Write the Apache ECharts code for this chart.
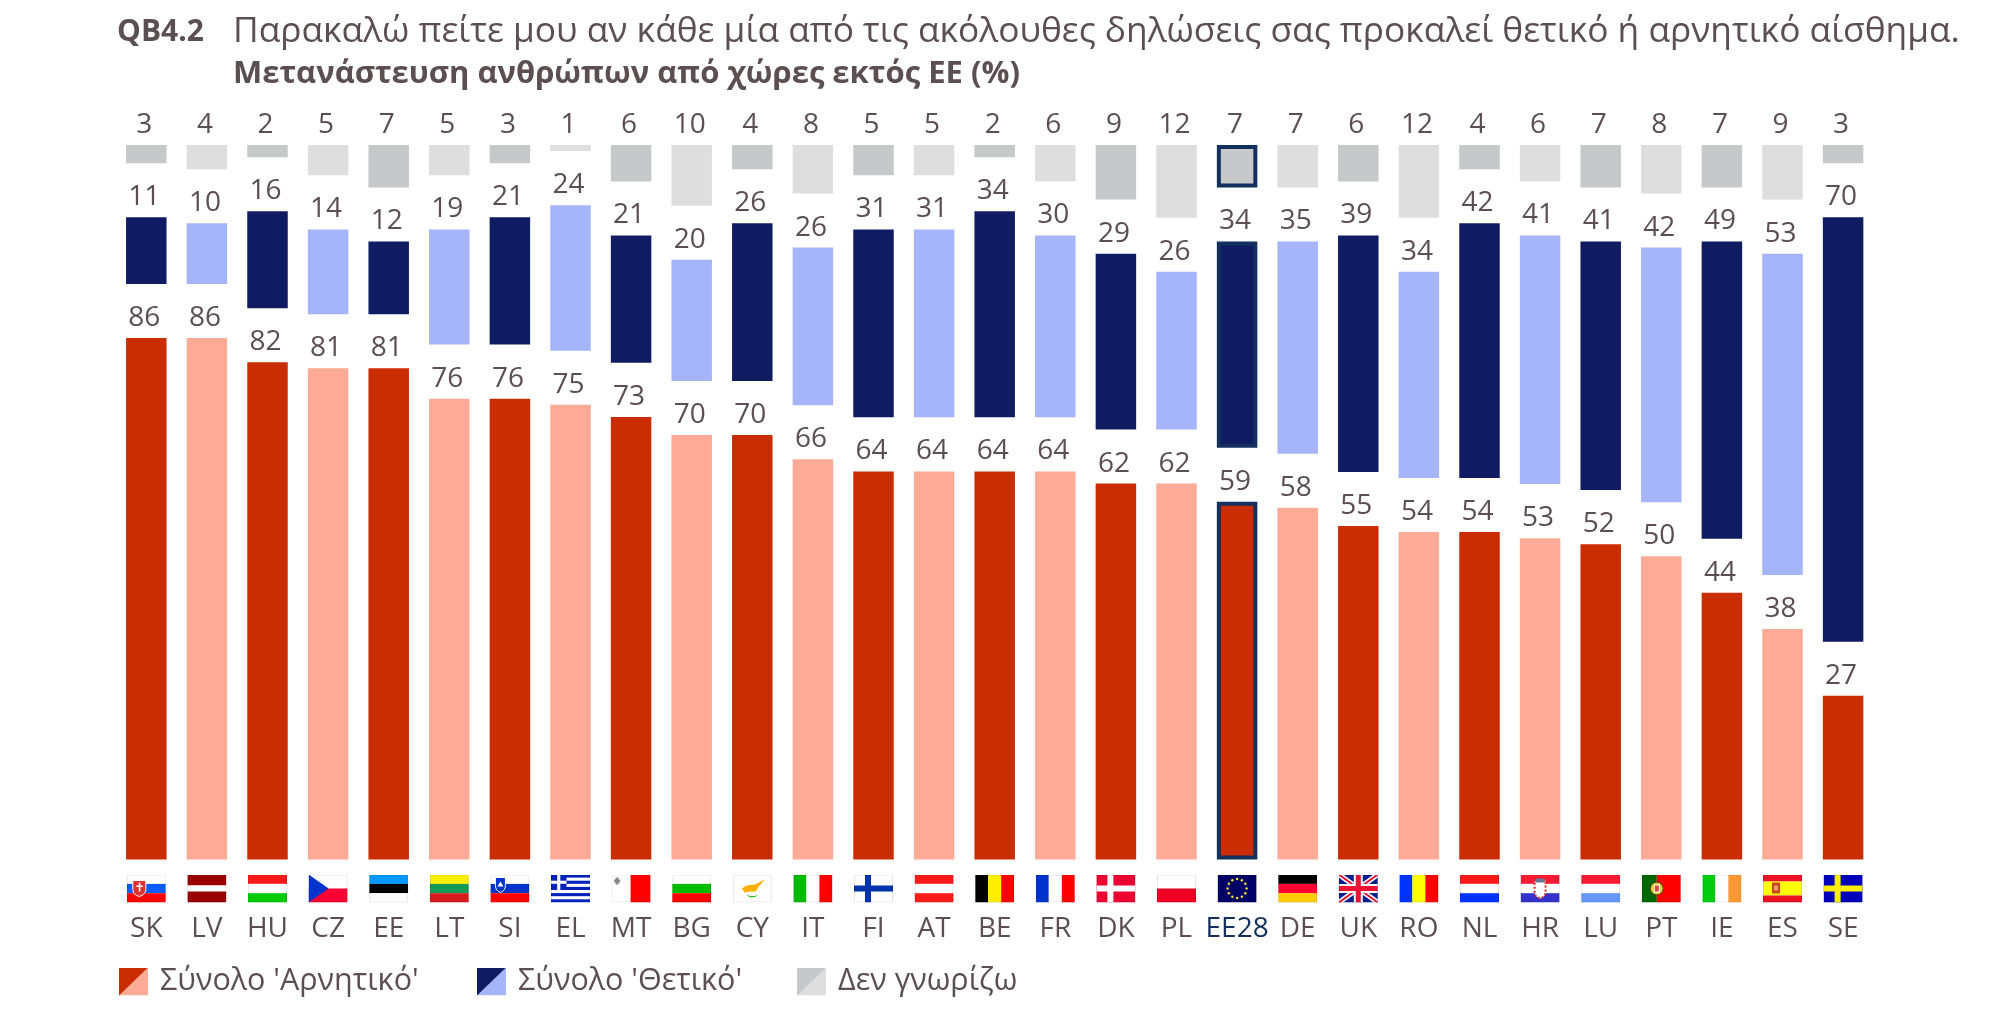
<!DOCTYPE html>
<html>
<head>
<meta charset="utf-8">
<title>QB4.2</title>
<script src="https://cdn.jsdelivr.net/npm/echarts@6/dist/echarts.min.js"></script>
<style>
html,body{margin:0;padding:0;background:#fff;}
#main{width:2000px;height:1014px;}
</style>
</head>
<body>
<div id="main"></div>
<script>
var countries = ['SK','LV','HU','CZ','EE','LT','SI','EL','MT','BG','CY','IT','FI','AT','BE','FR','DK','PL','EE28','DE','UK','RO','NL','HR','LU','PT','IE','ES','SE'];
var negative = [86,86,82,81,81,76,76,75,73,70,70,66,64,64,64,64,62,62,59,58,55,54,54,53,52,50,44,38,27];
var positive = [11,10,16,14,12,19,21,24,21,20,26,26,31,31,34,30,29,26,34,35,39,34,42,41,41,42,49,53,70];
var dontKnow = [3,4,2,5,7,5,3,1,6,10,4,8,5,5,2,6,9,12,7,7,6,12,4,6,7,8,7,9,3];
var seriesNames = ["Σύνολο 'Αρνητικό'","Σύνολο 'Θετικό'","Δεν γνωρίζω"];
var textColor = '#5c4f52';
var euColor = '#14305e';
var fontName = '"Open Sans","Noto Sans",sans-serif';
var gapUnits = 8.92; //κενό ανάμεσα στα τρία τμήματα

function stripesH(a,b,c){
	return '<rect width="39" height="9.4" fill="'+a+'"/><rect y="9.4" width="39" height="9.3" fill="'+b+'"/><rect y="18.7" width="39" height="9.3" fill="'+c+'"/>';
}
function stripesV(a,b,c){
	return '<rect width="13" height="28" fill="'+a+'"/><rect x="13" width="13" height="28" fill="'+b+'"/><rect x="26" width="13" height="28" fill="'+c+'"/>';
}
function cross(bg,fg){
	return '<rect width="39" height="28" fill="'+bg+'"/><rect x="11" width="6" height="28" fill="'+fg+'"/><rect y="11" width="39" height="6" fill="'+fg+'"/>';
}
function euStars(){
	var s = '<rect width="39" height="28" fill="#000066"/>';
	for(var i=0;i<12;i++){
		var a = i*Math.PI/6;
		s += '<circle cx="'+(19.5+9.5*Math.cos(a))+'" cy="'+(14+9.5*Math.sin(a))+'" r="1.2" fill="#ffdd33"/>';
	}
	return s;
}
function greekStripes(){
	var s = '<rect width="39" height="28" fill="#fff"/>';
	for(var i=0;i<5;i++){
		s += '<rect y="'+(i*6.2)+'" width="39" height="3.1" fill="#0022bb"/>';
	}
	s += '<rect width="15.5" height="15.5" fill="#0022bb"/><rect x="6.2" width="3.1" height="15.5" fill="#fff"/><rect y="6.2" width="15.5" height="3.1" fill="#fff"/>';
	return s;
}
var flagParts = {
	SK: stripesH('#fff','#0a5cff','#ff0000')+'<path d="M6 6h13v9q0 5-6.500 7q-6.500-2-6.500-7z" fill="#e03030" stroke="#fff"/><rect x="12" y="8" width="1.600" height="9" fill="#fff"/><rect x="9.500" y="11" width="6.500" height="1.500" fill="#fff"/>',
	LV: '<rect width="39" height="11" fill="#990000"/><rect y="11" width="39" height="6" fill="#fff"/><rect y="17" width="39" height="11" fill="#990000"/>',
	HU: stripesH('#ff1a1a','#fff','#00cc00'),
	CZ: '<rect width="39" height="14" fill="#fff"/><rect y="14" width="39" height="14" fill="#ff0033"/><path d="M0 0L20 14L0 28z" fill="#0033cc"/>',
	EE: stripesH('#0099ff','#000','#fff'),
	LT: stripesH('#ffee00','#139a55','#d71a1a'),
	SI: stripesH('#fff','#0033cc','#ff0000')+'<path d="M5 3h10v8q0 5-5 7q-5-2-5-7z" fill="#0033cc" stroke="#fff"/><path d="M7 12l3-5 3 5z" fill="#fff"/>',
	EL: greekStripes(),
	MT: '<rect width="19" height="28" fill="#fff"/><rect x="19" width="20" height="28" fill="#ff0000"/><rect x="4" y="3" width="3" height="7" fill="#888"/><rect x="2.500" y="5" width="6" height="3" fill="#888"/>',
	BG: stripesH('#fff','#00bb00','#ff0000'),
	CY: '<rect width="39" height="28" fill="#fff"/><path d="M9 14L14 11L22 10L32 5L26 12L23 17L17 17L12 18z" fill="#ffb000"/><path d="M13 20q6 6 13 0q-6 3-13 0z" fill="#33bb33"/>',
	IT: stripesV('#00bb00','#fff','#ff0000'),
	FI: cross('#fff','#0033aa'),
	AT: stripesH('#ff1a1a','#fff','#ff1a1a'),
	BE: stripesV('#000','#ffee00','#ff0000'),
	FR: stripesV('#0033cc','#fff','#ff0000'),
	DK: cross('#ee0033','#fff'),
	PL: '<rect width="39" height="14" fill="#fff"/><rect y="14" width="39" height="14" fill="#ee0022"/>',
	EE28: euStars(),
	DE: stripesH('#000','#ff0033','#ffcc00'),
	UK: '<rect width="39" height="28" fill="#0a1f8f"/><path d="M0 0L39 28M39 0L0 28" stroke="#fff" stroke-width="5"/><path d="M0 0L39 28M39 0L0 28" stroke="#ee1133" stroke-width="2"/><rect x="15" width="9" height="28" fill="#fff"/><rect y="9.500" width="39" height="9" fill="#fff"/><rect x="17" width="5" height="28" fill="#ee1133"/><rect y="11.500" width="39" height="5" fill="#ee1133"/>',
	RO: stripesV('#0033ff','#ffff00','#ff0000'),
	NL: stripesH('#ff1a1a','#fff','#0033ff'),
	HR: stripesH('#ff1a33','#fff','#3333cc')+'<path d="M14 6h11v12q0 4-5.500 6q-5.500-2-5.500-6z" fill="#fff" stroke="#dd2222" stroke-dasharray="2 2" stroke-width="2"/><rect x="15" y="4" width="9" height="4" fill="#667799"/>',
	LU: stripesH('#ff1a33','#fff','#6699ff'),
	PT: '<rect width="15" height="28" fill="#006600"/><rect x="15" width="24" height="28" fill="#ff0000"/><circle cx="15" cy="14" r="6.500" fill="#ddcc33" stroke="#553300"/><rect x="12.500" y="10.500" width="5" height="7" fill="#dd4444" stroke="#fff"/>',
	IE: stripesV('#00cc11','#fff','#ff9933'),
	ES: '<rect width="39" height="7" fill="#ee1122"/><rect y="7" width="39" height="14" fill="#ffff00"/><rect y="21" width="39" height="7" fill="#ee1122"/><rect x="9" y="8" width="8" height="11" fill="#cc4422"/><rect x="11" y="11" width="4" height="5" fill="#ee9966"/>',
	SE: cross('#0000bb','#ffee00')
};
function flagUrl(code){
	var svg = '<svg xmlns="http://www.w3.org/2000/svg" width="39" height="28" viewBox="0 0 39 28">'+flagParts[code]+
		'<rect x=".5" y=".5" width="38" height="27" fill="none" stroke="#000" stroke-opacity=".1"/></svg>';
	return 'data:image/svg+xml;charset=utf-8,'+encodeURIComponent(svg);
}
function legendIcon(a,b){
	var svg = '<svg xmlns="http://www.w3.org/2000/svg" width="29" height="28"><rect width="29" height="28" fill="'+b+'"/><path d="M0 28L29 0H0z" fill="'+a+'"/></svg>';
	return 'image://data:image/svg+xml;charset=utf-8,'+encodeURIComponent(svg);
}

//交替深浅颜色
function altColors(dark,light){
	return function(params){
		return params.dataIndex%2==0 ? dark : light;
	};
}
function barData(values){
	return values.map(function(v,i){
		if(countries[i]=='EE28'){
			return {value:v,itemStyle:{borderColor:euColor,borderWidth:4}};
		}
		return v;
	});
}
function valueSeries(name,values,dark,light){
	return {
		name:name,
		type:'bar',
		stack:'all',
		barWidth:40.5,
		data:barData(values),
		itemStyle:{color:altColors(dark,light)},
		label:{show:true,position:'top',distance:6,color:textColor,fontFamily:fontName,fontSize:28,offset:[-2,0]}
	};
}
function gapSeries(){
	return {
		type:'bar',
		stack:'all',
		barWidth:40.5,
		silent:true,
		data:countries.map(function(){return gapUnits;}),
		itemStyle:{color:'rgba(0,0,0,0)'}
	};
}
function legendAt(left,index){
	var icons = [legendIcon('#cb2d03','#fdaa96'),legendIcon('#0f1c62','#a6b4fa'),legendIcon('#c7c8ca','#dedede')];
	return {
		left:left,
		top:966,
		padding:0,
		itemWidth:29,
		itemHeight:28,
		itemGap:0,
		selectedMode:false,
		data:[{name:seriesNames[index],icon:icons[index]}],
		textStyle:{color:textColor,fontFamily:fontName,fontSize:30.5,padding:[0,0,0,7]}
	};
}

var axisRich = {
	name:{color:textColor,fontFamily:fontName,fontSize:28,lineHeight:53,align:'center'},
	nameEu:{color:euColor,fontFamily:fontName,fontSize:28,lineHeight:53,align:'center'}
};
countries.forEach(function(code){
	axisRich['f'+code] = {width:39,height:28,align:'center',backgroundColor:{image:flagUrl(code)}};
});

var chart = echarts.init(document.getElementById('main'));
chart.setOption({
	animation:false,
	backgroundColor:'#fff',
	title:[
		{text:'QB4.2',left:112,top:12,textStyle:{color:textColor,fontFamily:fontName,fontSize:30,fontWeight:'bold'}},
		{text:'Παρακαλώ πείτε μου αν κάθε μία από τις ακόλουθες δηλώσεις σας προκαλεί θετικό ή αρνητικό αίσθημα.',left:228,top:9,textStyle:{color:textColor,fontFamily:fontName,fontSize:35.3,fontWeight:'normal'}},
		{text:'Μετανάστευση ανθρώπων από χώρες εκτός ΕΕ (%)',left:228,top:54,textStyle:{color:textColor,fontFamily:fontName,fontSize:31,fontWeight:'bold'}}
	],
	legend:[legendAt(119,0),legendAt(477,1),legendAt(797,2)],
	grid:{left:116,top:145,width:1757.4,height:714.5,containLabel:false},
	xAxis:{
		type:'category',
		data:countries,
		axisLine:{show:false},
		axisTick:{show:false},
		axisLabel:{
			interval:0,
			margin:15,
			formatter:function(code){
				return '{f'+code+'|}\n{'+(code=='EE28'?'nameEu':'name')+'|'+code+'}';
			},
			rich:axisRich
		}
	},
	yAxis:{type:'value',min:0,max:100+2*gapUnits,show:false},
	series:[
		valueSeries(seriesNames[0],negative,'#cb2d03','#fdaa96'),
		gapSeries(),
		valueSeries(seriesNames[1],positive,'#0f1c62','#a6b4fa'),
		gapSeries(),
		valueSeries(seriesNames[2],dontKnow,'#c7c8ca','#dedede')
	]
});
</script>
</body>
</html>
